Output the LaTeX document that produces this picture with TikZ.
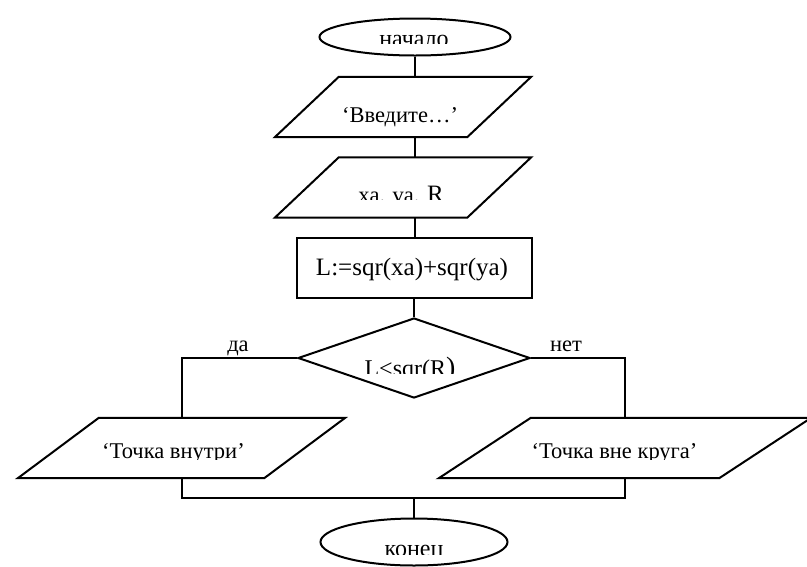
\documentclass[tikz,border=0pt]{standalone}
\usepackage{fontspec}
\setmainfont{Liberation Serif}
\usetikzlibrary{shapes.geometric}

\tikzset{
  link/.style={line width=2pt, black},
  txt/.style={font=\fontsize{22.5}{26}\selectfont, inner sep=0pt, anchor=base},
  bigtxt/.style={font=\fontsize{24}{28}\selectfont, inner sep=0pt, anchor=base},
  terminalbox/.style={draw, ellipse, line width=2pt, inner sep=0pt},
  iobox/.style={inner sep=0pt, minimum height=60pt},
  procbox/.style={draw, rectangle, line width=2pt, inner sep=0pt,
                  minimum width=235pt, minimum height=60pt},
  decbox/.style={draw, diamond, line width=2pt, inner sep=0pt,
                 minimum width=232pt, minimum height=80pt},
}

\begin{document}
\begin{tikzpicture}[x=1pt, y=-1pt]
  \clip (0,0) rectangle (807,566);

  % start
  \node[terminalbox, minimum width=191pt, minimum height=37pt] (start) at (415,37) {};
  \begin{scope}
    \clip (300,0) rectangle (530,43);
    \node[bigtxt] (tstart) at (414,46) {начало};
  \end{scope}

  % input prompt
  \node[iobox, minimum width=192pt] (in1) at (403,107) {};
  \draw[link] ([xshift=-32pt]in1.south west) -- ([xshift=-32pt]in1.south east)
    -- ([xshift=32pt]in1.north east) -- ([xshift=32pt]in1.north west) -- cycle;
  \node[txt] (tin1) at (400,122) {‘Введите…’};

  % input values
  \node[iobox, minimum width=192pt] (in2) at (403,187.5) {};
  \draw[link] ([xshift=-32pt]in2.south west) -- ([xshift=-32pt]in2.south east)
    -- ([xshift=32pt]in2.north east) -- ([xshift=32pt]in2.north west) -- cycle;
  \begin{scope}
    \clip (300,150) rectangle (520,199);
    \node[txt] (tin2) at (401,202) {xa. va. {\fontsize{25}{28}\selectfont R}};
  \end{scope}

  % computation
  \node[procbox] (calc) at (414.5,268) {};
  \node[bigtxt, font=\fontsize{25}{28}\selectfont] (tcalc) at (412,275) {L:=sqr(xa)+sqr(ya)};

  % condition
  \node[decbox] (dec) at (414,358) {};
  \begin{scope}
    \clip (340,330) rectangle (490,373.5);
    \node[bigtxt] (tdec) at (410,376) {L<sqr(R{\fontsize{28}{30}\selectfont )}};
  \end{scope}
  \node[txt] (yes) at (238,351) {да};
  \node[txt] (no) at (566,351) {нет};

  % outputs
  \node[iobox, minimum width=246pt] (out1) at (181.5,448) {};
  \draw[link] ([xshift=-40.5pt]out1.south west) -- ([xshift=-40.5pt]out1.south east)
    -- ([xshift=40.5pt]out1.north east) -- ([xshift=40.5pt]out1.north west) -- cycle;
  \begin{scope}
    \clip (60,425) rectangle (300,459.5);
    \node[txt] (tout1) at (173.5,458) {‘Точка внутри’};
  \end{scope}

  \node[iobox, minimum width=280pt] (out2) at (625,448) {};
  \draw[link] ([xshift=-46pt]out2.south west) -- ([xshift=-46pt]out2.south east)
    -- ([xshift=46pt]out2.north east) -- ([xshift=46pt]out2.north west) -- cycle;
  \begin{scope}
    \clip (480,425) rectangle (760,459.5);
    \node[txt] (tout2) at (614.5,458) {‘Точка вне круга’};
  \end{scope}

  % end
  \node[terminalbox, minimum width=187pt, minimum height=47pt] (stop) at (414,542) {};
  \begin{scope}
    \clip (300,520) rectangle (530,554);
    \node[bigtxt] (tstop) at (414,556) {конец};
  \end{scope}

  % connectors
  \coordinate (join) at (414,498);
  \draw[link] (start.south -| calc.north) -- (calc.north |- in1.north);
  \draw[link] (calc.north |- in1.south) -- (calc.north |- in2.north);
  \draw[link] (calc.north |- in2.south) -- (calc.north);
  \draw[link] (calc.south -| dec.north) -- (dec.north);
  \draw[link] (dec.west) -| (out1.north);
  \draw[link] (dec.east) -| (out2.north);
  \draw[link] (out1.south) |- (join) -| (out2.south);
  \draw[link] (join) -- (stop.north);
\end{tikzpicture}
\end{document}
